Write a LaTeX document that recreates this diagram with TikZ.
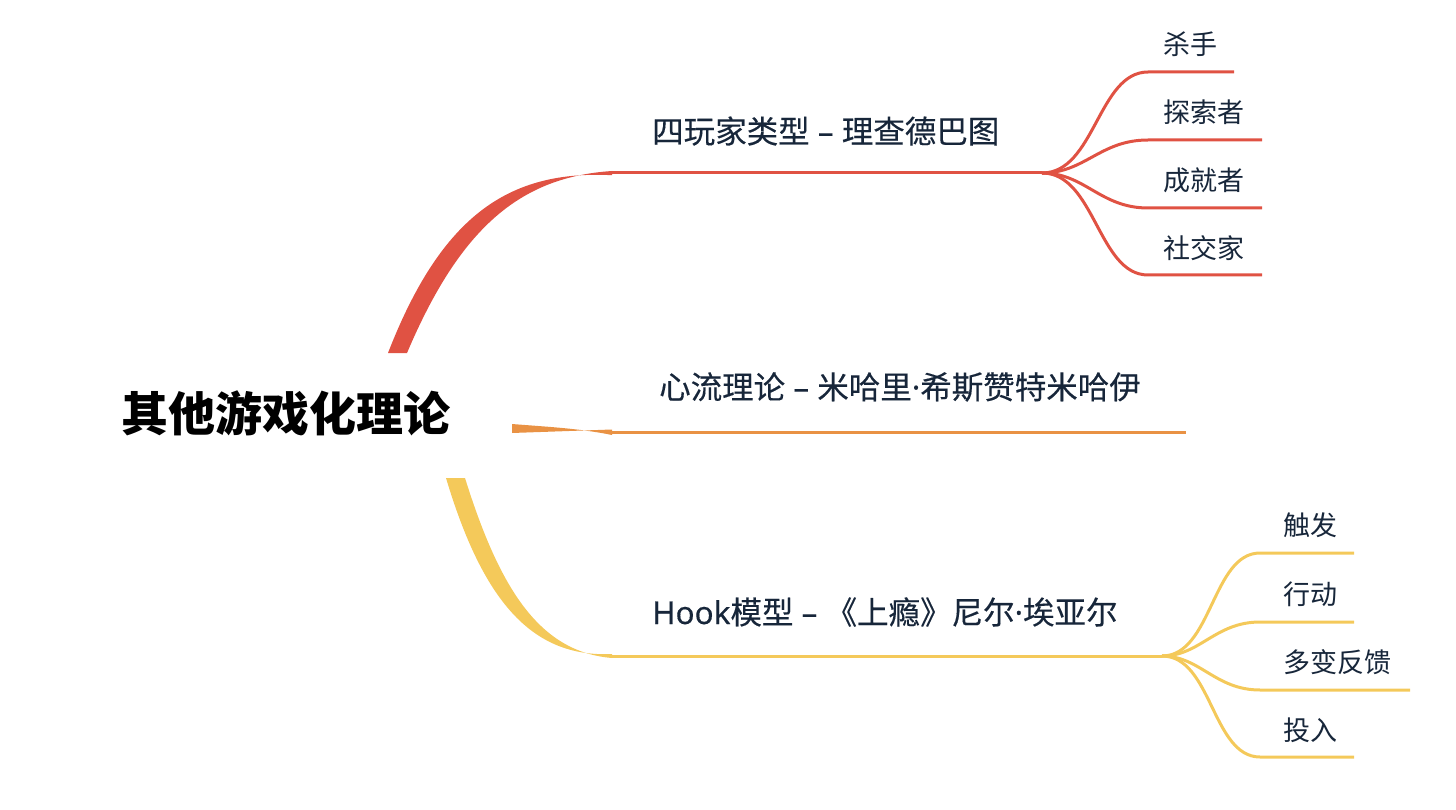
\documentclass[tikz,border=0pt]{standalone}
\usepackage{fontspec}
\setmainfont{Noto Sans CJK SC}
\newfontfamily\latin{Noto Sans}[FakeBold=0.3]
\newfontfamily\cjkmed{Noto Sans CJK SC}[FakeBold=0.3]
\definecolor{cred}{HTML}{E05243}
\definecolor{corange}{HTML}{E99244}
\definecolor{cyellow}{HTML}{F4C95A}
\definecolor{ink}{HTML}{17263A}
\newcommand{\sep}{{\latin\ – }}
\newcommand{\mdot}{{\latin ·}}
\begin{document}
\begin{tikzpicture}[x=1pt,y=-1pt,
  rootlbl/.style={inner sep=0pt,text=black,font=\bfseries\fontsize{47}{50}\selectfont},
  lbl/.style={anchor=west,inner sep=0pt,text=ink,font=\cjkmed\fontsize{31.5}{33}\selectfont},
  leaf/.style={anchor=west,inner sep=0pt,text=ink,font=\fontsize{27}{29}\selectfont},
  wire/.style={line width=3pt},
  fork/.style={wire,line cap=butt}]
\useasboundingbox (0,0) rectangle (1456,810);

% root
\node[rootlbl] (root) at (286,413) {其他游戏化理论};

% ---------- red branch ----------
\coordinate (rA) at (388,353);
\coordinate (rB) at (407,353);
\coordinate (r1) at (612,173);
\coordinate (r2) at (1042,173);
\fill[cred] (rA) .. controls (442,214) and (510,170) .. ([yshift=-2.2pt]r1)
  -- ([yshift=2pt]r1) .. controls (520,177) and (460,228) .. (rB) -- cycle;
\draw[wire,cred] (r1) -- (r2);
\node[lbl] (b1) at (652,131) {四玩家类型\sep 理查德巴图};

\coordinate (l1a) at (1148,72);  \coordinate (l1b) at (1234,72);
\coordinate (l2a) at (1148,140); \coordinate (l2b) at (1262,140);
\coordinate (l3a) at (1148,208); \coordinate (l3b) at (1262,208);
\coordinate (l4a) at (1148,275); \coordinate (l4b) at (1262,275);
\draw[fork,cred] (r2) .. controls (1095,173) and (1098,72) .. (l1a) -- (l1b);
\draw[fork,cred] (r2) .. controls (1085,173) and (1100,140) .. (l2a) -- (l2b);
\draw[fork,cred] (r2) .. controls (1085,173) and (1100,208) .. (l3a) -- (l3b);
\draw[fork,cred] (r2) .. controls (1095,173) and (1098,275) .. (l4a) -- (l4b);
\node[leaf] (k1) at (1163,44) {杀手};
\node[leaf] (k2) at (1163,112) {探索者};
\node[leaf] (k3) at (1163,180) {成就者};
\node[leaf] (k4) at (1163,248) {社交家};

% ---------- orange branch ----------
\coordinate (oA) at (512,424);
\coordinate (oB) at (512,433);
\coordinate (o1) at (612,432);
\coordinate (o2) at (1186,432);
\fill[corange] (oA) .. controls (550,427) and (580,428.5) .. ([yshift=-3pt]o1)
  -- ([yshift=2.5pt]o1) -- (oB) -- cycle;
\draw[wire,corange] (o1) -- (o2);
\node[lbl] (b2) at (659,387) {心流理论\sep 米哈里\mdot 希斯赞特米哈伊};

% ---------- yellow branch ----------
\coordinate (yA) at (446,478);
\coordinate (yB) at (465,478);
\coordinate (y1) at (612,656);
\coordinate (y2) at (1162,656);
\fill[cyellow] (yA) .. controls (482,598) and (530,658) .. ([yshift=2pt]y1)
  -- ([yshift=-2pt]y1) .. controls (540,652) and (500,590) .. (yB) -- cycle;
\draw[wire,cyellow] (y1) -- (y2);
\node[lbl] (b3) at (652,612) {{\latin Hook}模型\sep 《上瘾》尼尔\mdot 埃亚尔};

\coordinate (m1a) at (1260,553); \coordinate (m1b) at (1354,553);
\coordinate (m2a) at (1260,622); \coordinate (m2b) at (1354,622);
\coordinate (m3a) at (1260,690); \coordinate (m3b) at (1410,690);
\coordinate (m4a) at (1260,757); \coordinate (m4b) at (1354,757);
\draw[fork,cyellow] (y2) .. controls (1212,656) and (1212,553) .. (m1a) -- (m1b);
\draw[fork,cyellow] (y2) .. controls (1200,656) and (1215,622) .. (m2a) -- (m2b);
\draw[fork,cyellow] (y2) .. controls (1200,656) and (1215,690) .. (m3a) -- (m3b);
\draw[fork,cyellow] (y2) .. controls (1212,656) and (1212,757) .. (m4a) -- (m4b);
\node[leaf] (n1) at (1283,525) {触发};
\node[leaf] (n2) at (1283,594) {行动};
\node[leaf] (n3) at (1283,662) {多变反馈};
\node[leaf] (n4) at (1283,730) {投入};
\end{tikzpicture}
\end{document}
